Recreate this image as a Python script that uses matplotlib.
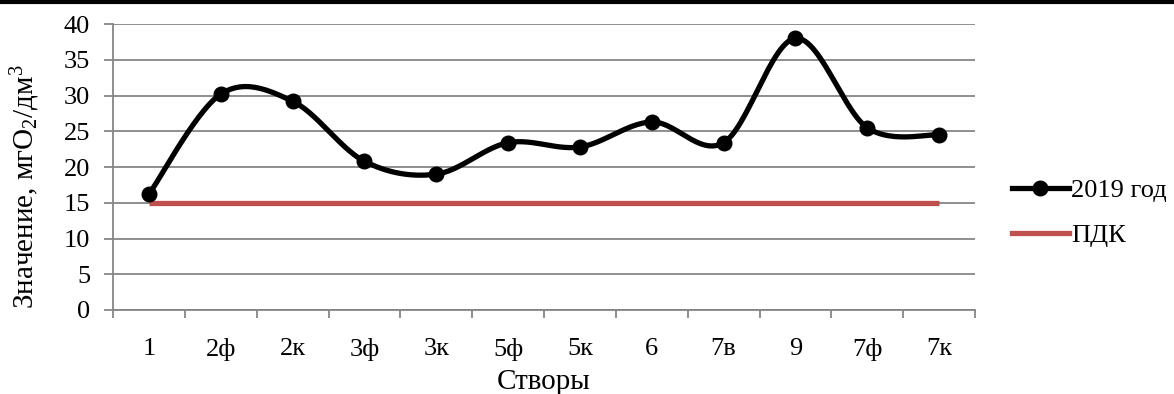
import matplotlib
matplotlib.use("Agg")
from matplotlib import pyplot as plt
from matplotlib.lines import Line2D
import numpy as np

plt.rcParams['font.family'] = ['Liberation Serif', 'DejaVu Serif']
plt.rcParams['mathtext.fontset'] = 'custom'
plt.rcParams['mathtext.rm'] = 'Liberation Serif'
plt.rcParams['mathtext.it'] = 'Liberation Serif'

#data
stvory = ['1', '2ф', '2к', '3ф', '3к', '5ф', '5к', '6', '7в', '9', '7ф', '7к']
year2019 = [16.2, 30.2, 29.2, 20.8, 19.0, 23.4, 22.8, 26.3, 23.4, 38.0, 25.5, 24.5]
pdk = [15] * len(stvory)

#smooth the series the way excel does (catmull-rom style bezier)
def smooth(x, y, steps=30):
    x = np.asarray(x, float)
    y = np.asarray(y, float)
    px = np.concatenate([[x[0]], x, [x[-1]]])
    py = np.concatenate([[y[0]], y, [y[-1]]])
    xs, ys = [], []
    t = np.linspace(0, 1, steps)
    for i in range(1, len(px) - 2):
        p0 = np.array([px[i], py[i]])
        p3 = np.array([px[i + 1], py[i + 1]])
        p1 = p0 + (np.array([px[i + 1], py[i + 1]]) - np.array([px[i - 1], py[i - 1]])) / 6.0
        p2 = p3 - (np.array([px[i + 2], py[i + 2]]) - np.array([px[i], py[i]])) / 6.0
        b = (np.outer((1 - t) ** 3, p0) + np.outer(3 * (1 - t) ** 2 * t, p1)
             + np.outer(3 * (1 - t) * t ** 2, p2) + np.outer(t ** 3, p3))
        xs.extend(b[:, 0])
        ys.extend(b[:, 1])
    return np.array(xs), np.array(ys)

x = np.arange(len(stvory))
sx, sy = smooth(x, year2019)

fig = plt.figure(figsize=(11.74, 3.94), dpi=100)
ax = fig.add_axes([0.0963, 0.2132, 0.7342, 0.7258])

grid_c = '#868686'
ax.plot(x, pdk, color='#C0504D', lw=3.8, solid_capstyle='butt', zorder=3)
ax.plot(sx, sy, color='black', lw=3.8, zorder=4)
ax.plot(x, year2019, 'o', color='black', ms=10.5, zorder=5)

ax.set_xlim(-0.5, len(stvory) - 0.5)
ax.set_ylim(0, 40)
ax.set_yticks(np.arange(0, 41, 5))
ax.yaxis.grid(True, color=grid_c, lw=1.3)
ax.set_axisbelow(True)
ax.set_xticks(x)
ax.set_xticklabels(stvory)
ax.set_xticks(np.arange(-0.5, len(stvory), 1), minor=True)
ax.tick_params(axis='x', which='major', length=0, pad=20, labelsize=19)
ax.tick_params(axis='x', which='minor', length=6, color=grid_c, width=1.3)
ax.tick_params(axis='y', length=6.5, color=grid_c, width=1.3, labelsize=19, pad=10)
for s in ['top', 'right']:
    ax.spines[s].set_visible(False)
for s in ['left', 'bottom']:
    ax.spines[s].set_color(grid_c)
    ax.spines[s].set_linewidth(1.3)

ax.set_xlabel('Створы', fontsize=21, labelpad=6)
fig.text(25 / 1174, 1 - 187 / 394, 'Значение, мгО$_2$/дм$^3$', fontsize=21,
         rotation=90, ha='center', va='center')

handles = [Line2D([], [], color='black', lw=3.8, marker='o', ms=10.5),
           Line2D([], [], color='#C0504D', lw=3.8)]
fig.legend(handles, ['2019 год', 'ПДК'], loc='center left', bbox_to_anchor=(0.862, 0.46),
           frameon=False, fontsize=19, handlelength=2.15, handletextpad=0.1,
           labelspacing=0.8, borderaxespad=0, borderpad=0)

#black rule across the top of the picture
fig.add_artist(Line2D([0, 1], [0.994, 0.994], color='black', lw=3, transform=fig.transFigure))

fig.savefig('out.png', dpi=100)
